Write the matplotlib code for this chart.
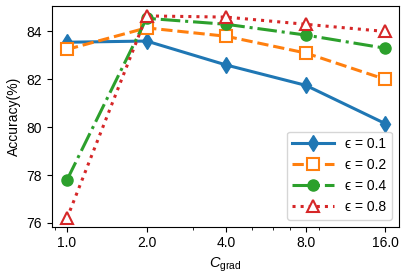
import numpy as np
import matplotlib
matplotlib.use('Agg')
import matplotlib.pyplot as plt

plt.rcParams['font.family'] = ['Liberation Sans', 'DejaVu Sans']
plt.rcParams['mathtext.fontset'] = 'custom'
plt.rcParams['mathtext.rm'] = 'Liberation Sans'
plt.rcParams['mathtext.it'] = 'Liberation Sans:italic'

c_grad = [1.0, 2.0, 4.0, 8.0, 16.0]
tick_labels = ['1.0', '2.0', '4.0', '8.0', '16.0']
eps_labels = ['ϵ = 0.1', 'ϵ = 0.2', 'ϵ = 0.4', 'ϵ = 0.8']
acc_01 = [83.55, 83.6, 82.6, 81.75, 80.15]
acc_02 = [83.25, 84.15, 83.8, 83.1, 82.0]
acc_04 = [77.8, 84.55, 84.3, 83.85, 83.3]
acc_08 = [76.2, 84.65, 84.6, 84.3, 84.0]

fig = plt.figure(figsize=(4.07, 2.77), dpi=100)
ax = fig.add_axes([0.127, 0.182, 0.853, 0.796])

ax.plot(c_grad, acc_01, '-', marker='d', color='tab:blue', lw=2.2, ms=8, label=eps_labels[0])
ax.plot(c_grad, acc_02, '--', marker='s', color='tab:orange', lw=2.2, ms=8,
        mfc='white', mew=1.5, label=eps_labels[1])
ax.plot(c_grad, acc_04, '-.', marker='o', color='tab:green', lw=2.2, ms=8, label=eps_labels[2])
ax.plot(c_grad, acc_08, ':', marker='^', color='tab:red', lw=2.2, ms=8,
        mfc='white', mew=1.5, label=eps_labels[3])

ax.set_xscale('log')
ax.set_xticks(c_grad)
ax.set_xticklabels(tick_labels)
ax.set_xlim(0.875, 18.0)
ax.set_ylim(75.85, 85.06)
ax.set_yticks([76, 78, 80, 82, 84])
ax.tick_params(labelsize=10)

ax.set_ylabel('Accuracy(%)', fontsize=10)
ax.set_xlabel(r'$C_{\mathrm{grad}}$', fontsize=10.5)

ax.legend(loc='lower right', fontsize=10, handlelength=3)

fig.savefig('out.png', dpi=100)
